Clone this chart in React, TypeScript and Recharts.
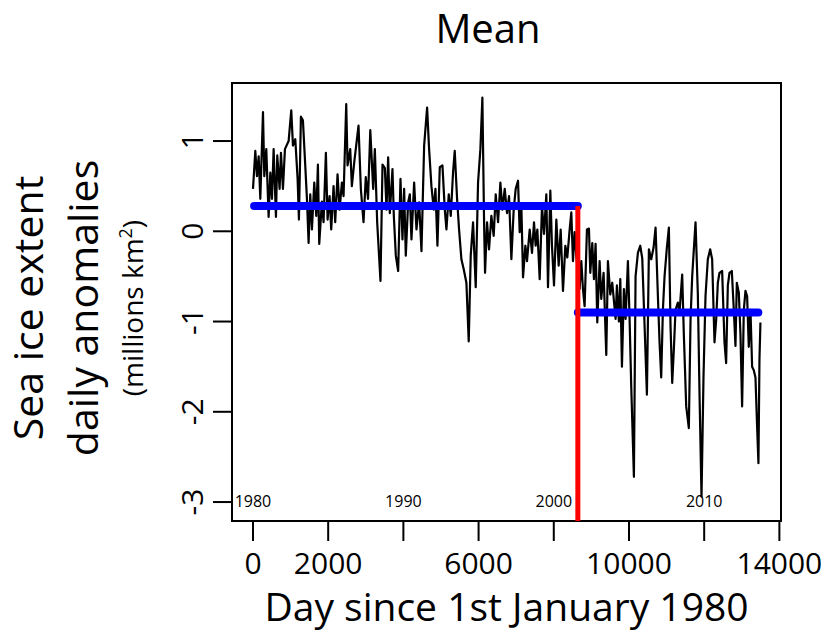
import React from 'react';
import { LineChart, Line, XAxis, YAxis, ReferenceLine, ReferenceArea } from 'recharts';

// Daily sea ice extent anomalies (day since 1 Jan 1980, millions km2)
const DAYS = [
  0, 62, 106, 151, 195, 266, 301, 354, 416, 461, 505, 549, 611, 646, 708, 744, 797, 850, 948, 1018,
  1063, 1125, 1187, 1222, 1275, 1328, 1390, 1435, 1479, 1523, 1568, 1630, 1683, 1727, 1762, 1833, 1877, 1939, 1984, 2037,
  2081, 2143, 2187, 2249, 2303, 2365, 2409, 2480, 2515, 2586, 2630, 2692, 2745, 2807, 2869, 2940, 3000, 3060, 3120, 3197,
  3241, 3303, 3391, 3445, 3507, 3551, 3595, 3639, 3710, 3746, 3799, 3861, 3923, 3976, 4020, 4064, 4126, 4171, 4215, 4286,
  4348, 4419, 4481, 4552, 4631, 4684, 4746, 4808, 4853, 4906, 4968, 5039, 5101, 5145, 5207, 5260, 5322, 5366, 5428, 5481,
  5543, 5605, 5676, 5738, 5791, 5853, 5924, 5986, 6048, 6101, 6146, 6172, 6225, 6278, 6340, 6402, 6456, 6518, 6580, 6633,
  6695, 6757, 6810, 6872, 6934, 6987, 7049, 7093, 7138, 7182, 7244, 7288, 7359, 7421, 7474, 7518, 7563, 7625, 7687, 7740,
  7802, 7846, 7908, 7952, 8006, 8068, 8130, 8183, 8245, 8307, 8360, 8422, 8466, 8510, 8555, 8599, 8687, 8732, 8776, 8820,
  8882, 8935, 8971, 9024, 9068, 9112, 9157, 9219, 9263, 9325, 9396, 9440, 9502, 9555, 9644, 9679, 9732, 9769, 9813, 9865,
  9910, 9972, 10016, 10060, 10131, 10175, 10237, 10299, 10353, 10415, 10477, 10530, 10592, 10654, 10707, 10769, 10813, 10857, 10902, 10946,
  11008, 11061, 11105, 11150, 11194, 11238, 11300, 11344, 11415, 11459, 11522, 11592, 11637, 11681, 11725, 11770, 11831, 11876, 11929, 11982,
  12035, 12097, 12159, 12212, 12274, 12319, 12363, 12407, 12478, 12540, 12584, 12629, 12673, 12735, 12788, 12832, 12868, 12921, 12965, 13009,
  13054, 13098, 13142, 13186, 13231, 13275, 13319, 13364, 13408, 13443, 13470, 13496,
];

const ANOMALY = [
  0.47, 0.89, 0.61, 0.83, 0.36, 1.32, 0.61, 0.91, 0.16, 0.65, 0.36, 0.91, 0.16, 0.84, 0.47, 0.87, 0.47, 0.91, 1.0, 1.34,
  0.95, 1.02, 0.58, 0.13, 1.27, 1.23, 0.73, 0.36, -0.13, 0.41, 0.02, 0.54, 0.17, 0.74, -0.14, 0.33, 0.1, 0.87, 0.13, 0.39,
  0.02, 0.5, 0.1, 0.63, 0.24, 0.54, 0.39, 1.41, 0.73, 0.91, 0.5, 0.76, 0.95, 1.17, 0.47, 0.1, 0.6, 0.36, 1.12, 0.47,
  0.91, 0.1, -0.55, 0.74, 0.7, 0.24, 0.82, 0.2, 0.69, 0.17, -0.27, -0.44, 0.58, -0.09, 0.47, -0.27, 0.32, 0.41, -0.09, 0.54,
  0.02, 0.32, -0.22, 0.95, 1.37, 0.91, 0.5, 0.24, 0.47, -0.16, 0.71, 0.73, 0.24, 0.02, 0.41, 0.17, 0.66, 0.89, 0.36, 0.02,
  -0.31, -0.42, -0.57, -1.22, -0.27, 0.1, -0.62, 0.54, 0.91, 1.48, 0.1, -0.46, 0.1, -0.2, 0.17, -0.05, 0.41, 0.1, 0.54, 0.24,
  0.47, 0.2, 0.39, -0.31, 0.24, 0.47, 0.56, -0.01, 0.28, -0.51, -0.16, -0.33, 0.02, -0.24, 0.1, -0.16, 0.02, -0.53, 0.28, -0.03,
  0.41, -0.62, 0.45, -0.16, -0.6, 0.13, -0.38, 0.02, -0.66, -0.16, -0.29, 0.02, 0.21, -0.33, -0.01, -0.27, -0.64, -0.33, -0.64, -0.83,
  0.02, 0.03, -0.46, -0.13, -0.53, -0.14, -1.01, -0.33, -0.75, -0.46, -1.37, -0.33, -0.7, -0.57, -0.97, -0.6, -1.0, -0.53, -1.5, -0.64,
  -0.97, -0.33, -0.97, -1.72, -2.72, -0.5, -0.24, -0.16, -0.3, -1.05, -1.81, -0.2, -0.31, -0.18, 0.04, -0.72, -1.23, -1.62, -0.87, -0.5,
  -0.18, 0.04, -1.05, -1.68, -1.3, -0.87, -0.79, -0.9, -0.48, -1.14, -1.94, -2.18, -0.98, -0.5, -0.2, 0.1, -0.69, -1.8, -2.94, -1.61,
  -0.72, -0.31, -0.2, -0.31, -1.23, -0.98, -0.57, -0.46, -0.44, -1.23, -1.46, -0.6, -0.46, -0.44, -0.87, -1.27, -0.57, -0.68, -1.14, -1.94,
  -0.87, -0.66, -0.72, -1.28, -0.87, -1.5, -1.54, -1.62, -2.17, -2.57, -1.42, -1.01,
];

// change point and segment means
const BREAK_DAY = 8640;
const MEAN_BEFORE = 0.28;
const MEAN_AFTER = -0.9;
const FIRST_DAY = 30;
const LAST_DAY = 13440;

const X_TICKS = [0, 2000, 4000, 6000, 8000, 10000, 12000, 14000];
const X_LABELLED = [0, 2000, 6000, 10000, 14000];
const Y_TICKS = [-3, -2, -1, 0, 1];
const YEAR_LABELS = ['1980', '1990', '2000', '2010'];
const YEAR_DAYS = [0, 4000, 8000, 12000];

const X_DOMAIN = [-558, 14043];
const Y_DOMAIN = [-3.21, 1.643];

const FONT = '"Open Sans", "DejaVu Sans", sans-serif';

const data = DAYS.map((day, i) => ({ day, anomaly: ANOMALY[i] }));

const XTick = ({ x, y, payload }: any) => {
  if (!X_LABELLED.includes(payload.value)) return <g />;
  return (
    <text x={x} y={y + 31} textAnchor="middle" fontSize={30} fill="#000">
      {payload.value}
    </text>
  );
};

const YTick = ({ x, y, payload }: any) => {
  const bx = x - 8;
  return (
    <text x={bx} y={y} transform={`rotate(-90 ${bx} ${y})`} textAnchor="middle" fontSize={30} fill="#000">
      {payload.value}
    </text>
  );
};

const XTitle = ({ viewBox }: any) => {
  const { x, y, width } = viewBox;
  return (
    <text x={x + width / 2} y={y + 100} textAnchor="middle" fontSize={39} fill="#000">
      Day since 1st January 1980
    </text>
  );
};

const YTitle = ({ viewBox }: any) => {
  const { x, y, height } = viewBox;
  const cy = y + height / 2 + 6;
  const line = (bx: number, size: number, body: React.ReactNode) => (
    <text x={bx} y={cy} transform={`rotate(-90 ${bx} ${cy})`} textAnchor="middle" fontSize={size} fill="#000">
      {body}
    </text>
  );
  return (
    <g>
      {line(x - 129, 41, 'Sea ice extent')}
      {line(x - 74, 41, 'daily anomalies')}
      {line(x - 29, 28, <>(millions km<tspan fontSize={18} dy={-11}>2</tspan><tspan dy={11}>)</tspan></>)}
    </g>
  );
};

export default function App() {
  return (
    <div style={{ position: 'absolute', left: 0, top: 0, width: 825, height: 637, background: '#fff', fontFamily: FONT }}>
      <LineChart width={825} height={637} data={data} margin={{ top: 83, right: 44, left: 172, bottom: 16 }}>
        <XAxis
          type="number"
          dataKey="day"
          domain={X_DOMAIN}
          ticks={X_TICKS}
          interval={0}
          allowDataOverflow
          height={100}
          stroke="#000"
          axisLine={false}
          tickSize={20}
          tickLine={{ stroke: '#000', strokeWidth: 2 }}
          tick={<XTick />}
          label={{ content: <XTitle /> }}
        />
        <YAxis
          type="number"
          domain={Y_DOMAIN}
          ticks={Y_TICKS}
          interval={0}
          allowDataOverflow
          width={60}
          stroke="#000"
          axisLine={false}
          tickSize={19}
          tickLine={{ stroke: '#000', strokeWidth: 2 }}
          tick={<YTick />}
          label={{ content: <YTitle /> }}
        />
        <ReferenceArea y1={Y_DOMAIN[0]} y2={Y_DOMAIN[1]} fill="none" stroke="#000" strokeWidth={2} ifOverflow="visible" />
        {YEAR_DAYS.map((d, i) => (
          <ReferenceLine
            key={YEAR_LABELS[i]}
            x={d}
            stroke="none"
            label={{ value: YEAR_LABELS[i], position: 'insideBottom', offset: 14, fontSize: 16, fill: '#000' }}
          />
        ))}
        <Line type="linear" dataKey="anomaly" stroke="#000" strokeWidth={2.2} strokeLinejoin="round" dot={false} isAnimationActive={false} />
        <ReferenceLine
          segment={[{ x: FIRST_DAY, y: MEAN_BEFORE }, { x: BREAK_DAY, y: MEAN_BEFORE }]}
          stroke="#0000ff"
          strokeWidth={8}
          strokeLinecap="round"
          ifOverflow="visible"
        />
        <ReferenceLine
          segment={[{ x: BREAK_DAY, y: MEAN_AFTER }, { x: LAST_DAY, y: MEAN_AFTER }]}
          stroke="#0000ff"
          strokeWidth={8}
          strokeLinecap="round"
          ifOverflow="visible"
        />
        <ReferenceLine
          segment={[{ x: BREAK_DAY, y: MEAN_BEFORE }, { x: BREAK_DAY, y: Y_DOMAIN[0] }]}
          stroke="#ff0000"
          strokeWidth={5}
          ifOverflow="visible"
        />
      </LineChart>
      <svg width={825} height={637} style={{ position: 'absolute', left: 0, top: 0, pointerEvents: 'none' }}>
        <text x={488} y={43} textAnchor="middle" fontSize={40} fill="#000" fontFamily={FONT}>
          Mean
        </text>
      </svg>
    </div>
  );
}
